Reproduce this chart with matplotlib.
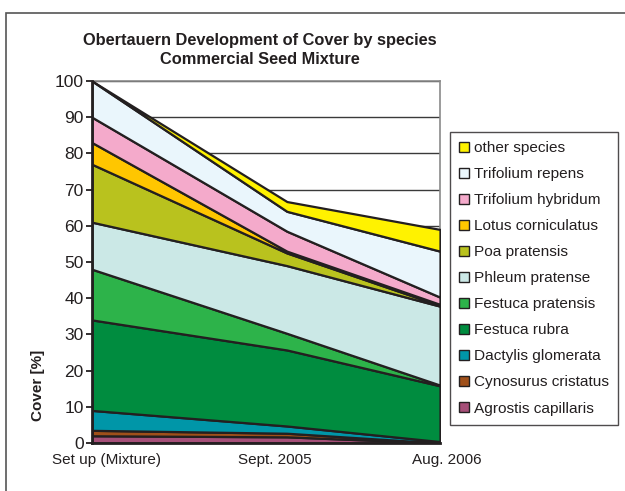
import matplotlib
matplotlib.use("Agg")
import matplotlib.pyplot as plt
import matplotlib.transforms as mtransforms
from matplotlib.patches import Patch, Rectangle

plt.rcParams['font.family'] = ['Liberation Sans', 'DejaVu Sans']

# Survey dates (months after set-up) and their labels
month_offset = [0, 14, 25]
date_labels = ["Set up (Mixture)", "Sept. 2005", "Aug. 2006"]

# Cover [%] per species at each survey, bottom of the stack first
species = [
    "Agrostis capillaris", "Cynosurus cristatus", "Dactylis glomerata",
    "Festuca rubra", "Festuca pratensis", "Phleum pratense", "Poa pratensis",
    "Lotus corniculatus", "Trifolium hybridum", "Trifolium repens", "other species",
]
agrostis_capillaris = [2.0, 1.7, 0.0]
cynosurus_cristatus = [1.5, 1.0, 0.0]
dactylis_glomerata = [5.5, 2.0, 0.4]
festuca_rubra = [25.0, 21.0, 15.4]
festuca_pratensis = [14.0, 4.6, 0.2]
phleum_pratense = [13.0, 18.7, 21.8]
poa_pratensis = [16.0, 3.5, 0.2]
lotus_corniculatus = [6.0, 0.5, 0.3]
trifolium_hybridum = [7.0, 5.5, 2.0]
trifolium_repens = [10.0, 5.5, 12.7]
other_species = [0.0, 2.7, 6.0]

series = [agrostis_capillaris, cynosurus_cristatus, dactylis_glomerata,
          festuca_rubra, festuca_pratensis, phleum_pratense, poa_pratensis,
          lotus_corniculatus, trifolium_hybridum, trifolium_repens, other_species]

colors = ["#A64F78", "#A0501A", "#0096A8", "#008C3F", "#2DB34A", "#CBE8E6",
          "#B9C21E", "#FFC600", "#F4AACB", "#EAF6FC", "#FFF200"]

edge = "#231F20"
text_color = "#231F20"

W, H = 625, 491
fig = plt.figure(figsize=(W / 100, H / 100), dpi=100)
fig.patch.set_facecolor("white")

# outer chart frame
fig.add_artist(Rectangle((6 / W, -0.05), 1.1, 1 - 13 / H + 0.05,
                         transform=fig.transFigure, fill=False,
                         edgecolor="#555555", linewidth=1.2))

ax = fig.add_axes([92 / W, 1 - 443 / H, (440 - 92) / W, (443 - 81) / H])

ax.stackplot(month_offset, *series, colors=colors, edgecolor=edge,
             linewidth=1.6, zorder=3)

ax.set_xlim(month_offset[0], month_offset[-1])
ax.set_ylim(0, 100)
ax.set_yticks(range(0, 101, 10))
ax.set_yticks(range(5, 100, 10), minor=True)
ax.grid(axis="y", color="#3a3a3a", linewidth=1.0, zorder=1)
ax.set_axisbelow(True)

ax.tick_params(axis="y", which="major", direction="out", length=4, width=1.3,
               color=edge, labelsize=12.5, labelcolor=text_color, pad=2)
ax.tick_params(axis="y", which="minor", direction="in", length=3, width=1.0,
               color=edge)
ax.set_xticks(month_offset)
ax.set_xticklabels(date_labels)
ax.tick_params(axis="x", length=0, labelsize=11, labelcolor=text_color, pad=7)

# nudge the date labels
shifts = [15, -12, 7]
for lab, dx in zip(ax.get_xticklabels(), shifts):
    lab.set_transform(lab.get_transform() +
                      mtransforms.ScaledTranslation(dx / 100, 0, fig.dpi_scale_trans))

for side in ("left", "bottom"):
    ax.spines[side].set_color(edge)
    ax.spines[side].set_linewidth(2.0)
    ax.spines[side].set_zorder(5)
for side in ("top", "right"):
    ax.spines[side].set_color("#8a8a8a")
    ax.spines[side].set_linewidth(1.2)

fig.text(260 / W, 1 - 41 / H, "Obertauern Development of Cover by species",
         ha="center", va="center", fontsize=11.8, fontweight="bold",
         color=text_color)
fig.text(260 / W, 1 - 60 / H, "Commercial Seed Mixture",
         ha="center", va="center", fontsize=11.8, fontweight="bold",
         color=text_color)

fig.text(38 / W, 1 - 385 / H, "Cover [%]", rotation=90, ha="center",
         va="center", fontsize=11, fontweight="bold", color=text_color)

handles = [Patch(facecolor=c, edgecolor=edge, linewidth=1.0, label=s)
           for c, s in zip(colors, species)][::-1]
leg = fig.legend(handles=handles, loc="upper left",
                 bbox_to_anchor=(450 / W, 1 - 132 / H),
                 bbox_transform=fig.transFigure, frameon=True, fancybox=False,
                 fontsize=11.1, labelspacing=0.78, handlelength=0.6,
                 handleheight=0.6, handletextpad=0.35, borderpad=0.6,
                 borderaxespad=0)
leg.get_frame().set_edgecolor(edge)
leg.get_frame().set_linewidth(1.0)
for t in leg.get_texts():
    t.set_color(text_color)

fig.savefig("out.png", dpi=100)
